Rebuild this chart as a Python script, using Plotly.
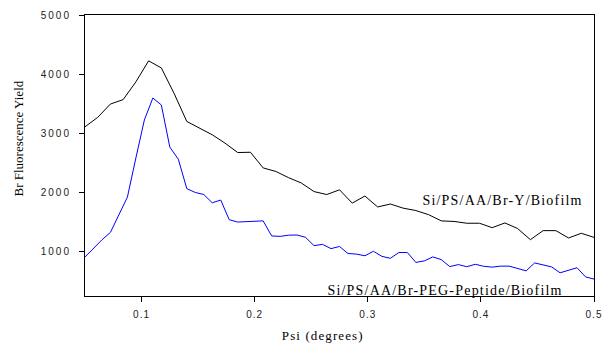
import plotly.graph_objects as go

# Black series: Si/PS/AA/Br-Y/Biofilm (41 points, psi 0.05 .. 0.5)
psi_black = [round(0.05 + i * 0.01125, 5) for i in range(41)]
y_black = [3110, 3270, 3495, 3570, 3870, 4225, 4105, 3675, 3200, 3085,
           2975, 2835, 2675, 2680, 2415, 2355, 2250, 2160, 2015, 1965,
           2045, 1820, 1940, 1755, 1805, 1735, 1695, 1625, 1520, 1510,
           1480, 1480, 1405, 1485, 1390, 1202, 1355, 1355, 1231, 1310,
           1241]

# Blue series: Si/PS/AA/Br-PEG-Peptide/Biofilm (61 points, psi 0.05 .. 0.5)
psi_blue = [round(0.05 + i * 0.0075, 5) for i in range(61)]
y_blue = [910, 1060, 1200, 1326, 1624, 1922, 2585, 3226, 3597, 3479,
          2766, 2563, 2065, 2000, 1966, 1826, 1872, 1540, 1500, 1506,
          1511, 1520, 1265, 1258, 1278, 1281, 1241, 1101, 1123, 1051,
          1087, 968, 958, 930, 1006, 920, 887, 985, 985, 818,
          843, 911, 865, 747, 781, 745, 786, 752, 738, 755,
          755, 718, 675, 809, 778, 742, 642, 685, 728, 573,
          536]

x_ticks = [0.1, 0.2, 0.3, 0.4, 0.5]
x_ticklabels = ["0.1", "0.2", "0.3", "0.4", "0.5"]
y_ticks = [1000, 2000, 3000, 4000, 5000]
y_ticklabels = ["1000", "2000", "3000", "4000", "5000"]

label_black = "Si/PS/AA/Br-Y/Biofilm"
label_blue = "Si/PS/AA/Br-PEG-Peptide/Biofilm"
x_title = "Psi (degrees)"
y_title = "Br Fluorescence Yield"

serif = "Liberation Serif, Times New Roman, serif"
sans = "Liberation Sans, Arial, sans-serif"

fig = go.Figure()
fig.add_trace(go.Scatter(x=psi_black, y=y_black, mode="lines",
                         line=dict(color="#000000", width=1), name=label_black,
                         showlegend=False))
fig.add_trace(go.Scatter(x=psi_blue, y=y_blue, mode="lines",
                         line=dict(color="#0000FF", width=1), name=label_blue,
                         showlegend=False))

# series labels (annotation index 0, 1)
fig.add_annotation(x=0.3577, y=1860, xref="x", yref="y", text=label_black,
                   showarrow=False, xanchor="left", yanchor="middle",
                   font=dict(family=serif, size=14, color="#000000"))
fig.add_annotation(x=0.2789, y=335, xref="x", yref="y", text=label_blue,
                   showarrow=False, xanchor="left", yanchor="middle",
                   font=dict(family=serif, size=14, color="#000000"))
# axis titles (annotation index 2, 3)
fig.add_annotation(x=0.4676, y=-0.1423, xref="paper", yref="paper", text=x_title,
                   showarrow=False, xanchor="center", yanchor="middle",
                   font=dict(family=serif, size=13, color="#000000"))
fig.add_annotation(x=-0.1316, y=0.5605, xref="paper", yref="paper", text=y_title,
                   showarrow=False, xanchor="center", yanchor="middle", textangle=-90,
                   font=dict(family=serif, size=13, color="#000000"))

fig.update_layout(
    width=602, height=343,
    margin=dict(l=85, r=8, t=15, b=47, autoexpand=False),
    paper_bgcolor="white", plot_bgcolor="white",
    showlegend=False,
)
fig.update_xaxes(
    range=[0.05, 0.5], tickvals=x_ticks, ticktext=x_ticklabels,
    showgrid=False, zeroline=False, automargin=False,
    showline=True, linecolor="black", linewidth=1, mirror=True,
    ticks="outside", ticklen=5, tickcolor="black", tickwidth=1,
    tickfont=dict(family=sans, size=10, color="#222222"),
    ticklabelstandoff=4,
)
fig.update_yaxes(
    range=[250, 5000], tickvals=y_ticks, ticktext=y_ticklabels,
    showgrid=False, zeroline=False, automargin=False,
    showline=True, linecolor="black", linewidth=1, mirror=True,
    ticks="outside", ticklen=5, tickcolor="black", tickwidth=1,
    tickfont=dict(family=sans, size=10, color="#222222"),
    ticklabelstandoff=6,
)

post = """
document.body.style.margin = '0';
var gd = document.getElementById('{plot_id}');
function sp(sel, v) { gd.querySelectorAll(sel).forEach(function (t) { t.style.letterSpacing = v; }); }
sp('.xtick text', '1px');
sp('.ytick text', '2px');
sp('g.annotation[data-index="0"] text', '1.2px');
sp('g.annotation[data-index="1"] text', '1.2px');
sp('g.annotation[data-index="2"] text', '1.1px');
"""

fig.write_html("out.html", post_script=post, config={"displayModeBar": False})
